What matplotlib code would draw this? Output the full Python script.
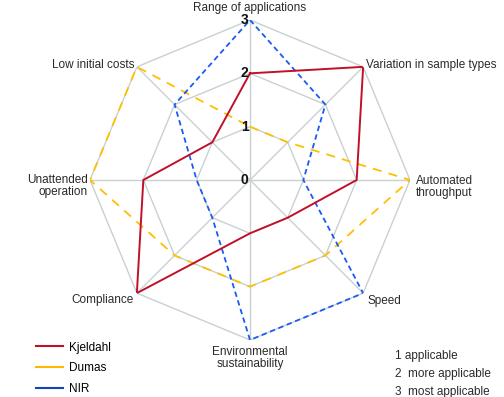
import numpy as np
import matplotlib
matplotlib.use("Agg")
import matplotlib.pyplot as plt
from matplotlib.lines import Line2D

plt.rcParams["font.family"] = ["Liberation Sans", "DejaVu Sans"]

# axes clockwise from the top
categories = [
    "Range of applications",
    "Variation in sample types",
    "Automated\nthroughput",
    "Speed",
    "Environmental\nsustainability",
    "Compliance",
    "Unattended\noperation",
    "Low initial costs",
]
kjeldahl = [2, 3, 2, 1, 1, 3, 2, 1]
dumas = [1, 1, 3, 2, 2, 2, 3, 3]
nir = [3, 2, 1, 3, 3, 1, 1, 2]
levels = [0, 1, 2, 3]
scale_notes = ["1 applicable", "2  more applicable", "3  most applicable"]

n = len(categories)
theta = np.linspace(0, 2 * np.pi, n, endpoint=False)
theta_c = np.append(theta, theta[0])

fig = plt.figure(figsize=(5.04, 3.97), dpi=100)
ax = fig.add_axes([90 / 504, 57 / 397, 320 / 504, 320 / 397], projection="polar")
ax.set_theta_offset(np.pi / 2)
ax.set_theta_direction(-1)
ax.set_ylim(0, 3)
ax.grid(False)
ax.spines["polar"].set_visible(False)
ax.set_xticks([])
ax.set_yticks([])
ax.patch.set_alpha(0)

grid_c = "#c8d0d0"
for lv in levels[1:]:
    ax.plot(theta_c, [lv] * (n + 1), color=grid_c, lw=1.0, zorder=1)
for t in theta:
    ax.plot([t, t], [0, 3], color=grid_c, lw=1.0, zorder=1)


def closed(v):
    return v + v[:1]


ax.plot(theta_c, closed(dumas), color="#ffbf00", lw=1.3, ls=(0, (5, 4)), zorder=3)
ax.plot(theta_c, closed(nir), color="#1a5cf0", lw=1.3, ls=(0, (3, 2)), zorder=4)
ax.plot(theta_c, closed(kjeldahl), color="#c0102a", lw=1.4, zorder=5)

# level numbers sit just left of the top spoke
for lv in levels:
    ax.annotate(str(lv), (0, lv), xytext=(-1, 0), textcoords="offset points",
                ha="right", va="center", fontsize=10, fontweight="bold",
                color="#111111", zorder=6)

# category labels placed in figure pixels around the web
label_pos = [
    (250, 8, "center"),
    (366, 65, "left"),
    (416, 187, "left"),
    (368, 301, "left"),
    (250, 358, "center"),
    (134, 300, "right"),
    (88, 186, "right"),
    (134, 65, "right"),
]
for lab, (x, y, ha) in zip(categories, label_pos):
    fig.text(x / 504, 1 - y / 397, lab, ha=ha, va="center", fontsize=8.5,
             color="#2a2a2a", linespacing=1.1)

handles = [
    Line2D([], [], color="#c0102a", lw=1.5),
    Line2D([], [], color="#ffb800", lw=1.5),
    Line2D([], [], color="#1144bb", lw=1.5),
]
fig.legend(handles, ["Kjeldahl", "Dumas", "NIR"], loc="upper left",
           bbox_to_anchor=(25 / 504, 1 - 331 / 397), frameon=False,
           fontsize=8.5, handlelength=2.3, handletextpad=0.5, labelspacing=0.75)

for i, note in enumerate(scale_notes):
    fig.text(395 / 504, 1 - (356 + 18 * i) / 397, note, ha="left", va="center",
             fontsize=8.5, color="#2a2a2a")

fig.savefig("out.png", dpi=100)
